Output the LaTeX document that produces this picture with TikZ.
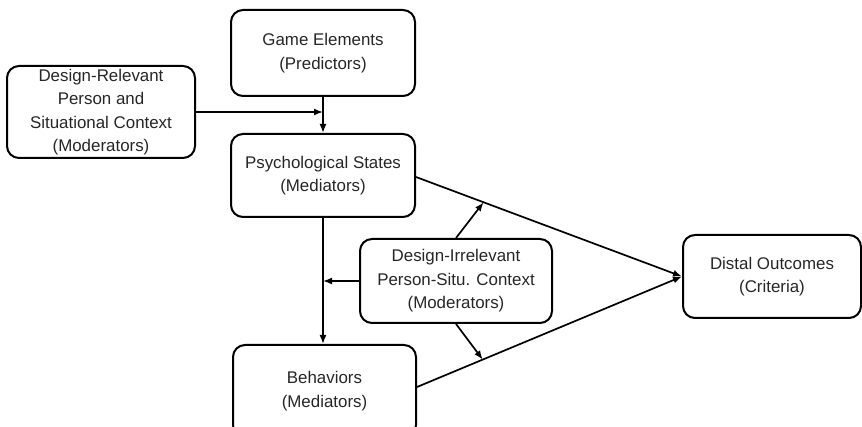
\documentclass[tikz,border=0pt]{standalone}
\usepackage{fontspec}
\setmainfont{Liberation Sans}
\usetikzlibrary{arrows.meta,calc}
\begin{document}
\begin{tikzpicture}[x=1pt,y=-1pt,
  box/.style={draw, line width=2pt, rounded corners=12pt, align=center, inner sep=0pt,
    font=\fontsize{16.9}{23.4}\selectfont, text=black!85},
  conn/.style={line width=1.7pt, -{Latex[length=9pt,width=7pt]}}]
\useasboundingbox (0,0) rectangle (862,427);
\node[box, minimum width=184pt, minimum height=86pt] (ge) at (323,53) {Game Elements\\(Predictors)};
\node[box, minimum width=188pt, minimum height=92pt] (dr) at (101,112) {Design-Relevant\\Person and\\Situational Context\\(Moderators)};
\node[box, minimum width=184pt, minimum height=83pt] (ps) at (323,175.5) {Psychological States\\(Mediators)};
\node[box, minimum width=192pt, minimum height=84pt] (di) at (456,281) {Design-Irrelevant\\Person-Situ. Context\\(Moderators)};
\node[box, minimum width=183pt, minimum height=92pt] (be) at (324.5,391) {Behaviors\\(Mediators)};
\node[box, minimum width=178pt, minimum height=83pt] (do) at (772,276.5) {Distal Outcomes\\(Criteria)};
\coordinate (j1) at (ge.south |- dr.east);
\coordinate (j2) at (ps.south |- di.west);
\draw[conn] (ge.south) -- (ps.north);
\draw[conn] (dr.east) -- (j1);
\draw[conn] (ps.south) -- (ps.south |- be.north);
\draw[conn] (di.west) -- (j2);
\coordinate (pe) at ([yshift=-1.5pt]ps.east);
\coordinate (bee) at ([yshift=4pt]be.east);
\draw[conn] (pe) -- (do.west);
\draw[conn] (bee) -- (do.west);
\coordinate (m1) at ($(pe)!0.254!(do.west)$);
\coordinate (m2) at ($(bee)!0.248!(do.west)$);
\draw[conn] (di.north) -- (m1);
\draw[conn] (di.south) -- (m2);
\end{tikzpicture}
\end{document}
